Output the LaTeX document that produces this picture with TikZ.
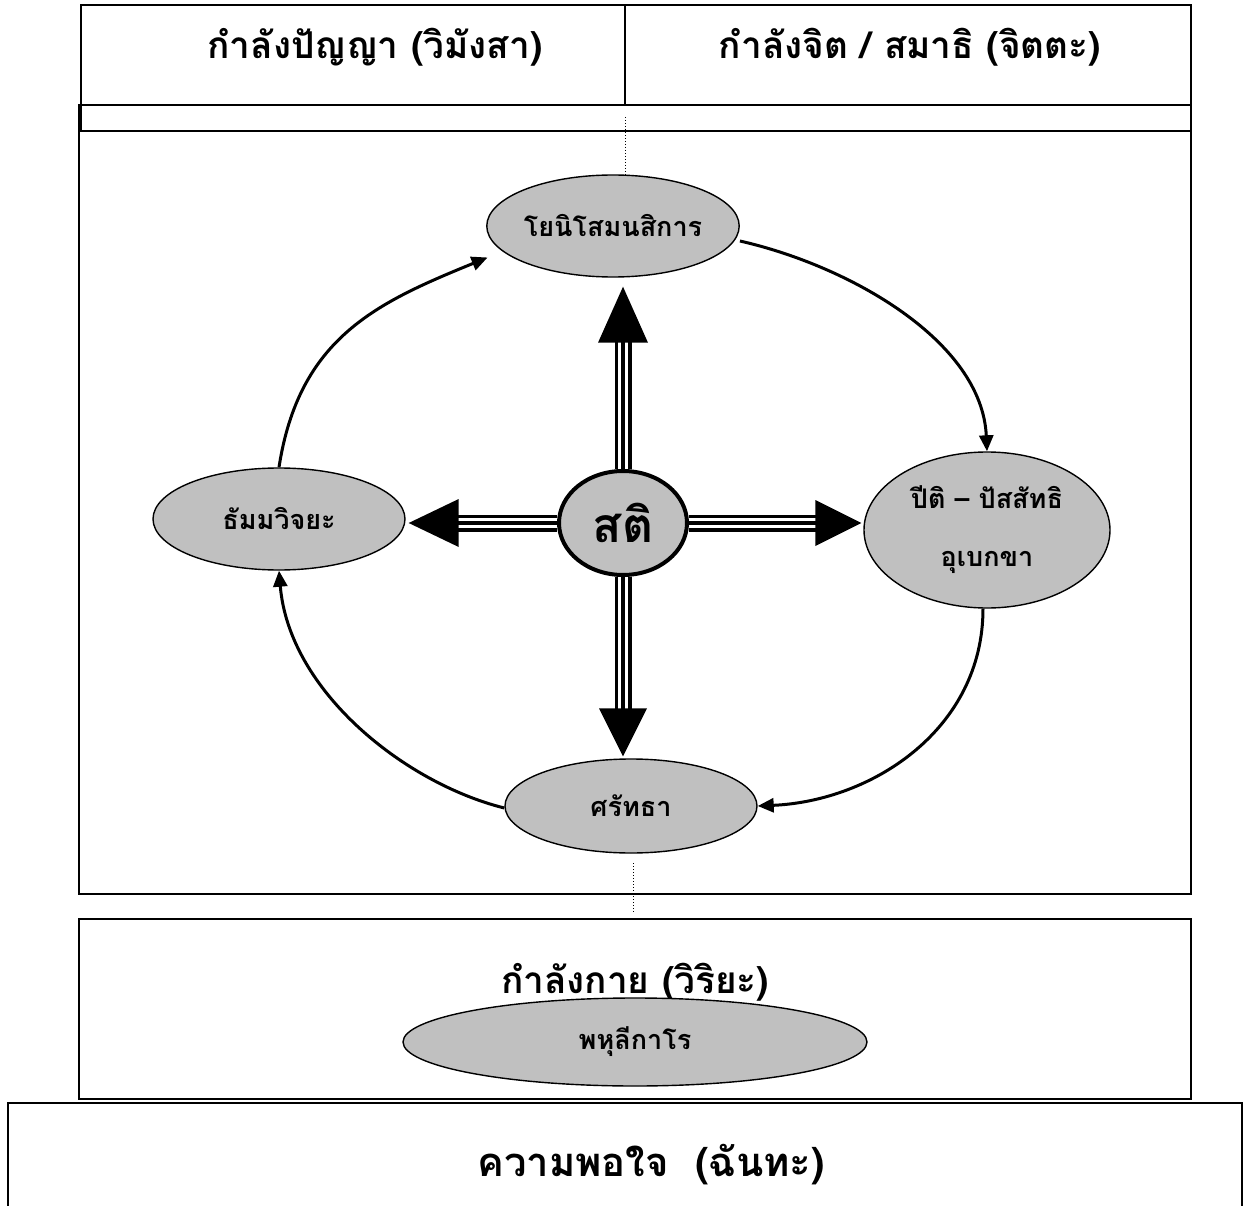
\documentclass[tikz,border=0pt]{standalone}
\usepackage{fontspec}
\newfontfamily\thaifont[Script=Thai]{Loma}
\usetikzlibrary{shapes.geometric,arrows.meta,calc}
\definecolor{ovalgray}{RGB}{192,192,192}
\tikzset{
  frame/.style={draw=black, line width=1.6pt},
  oval/.style={ellipse, draw=black, line width=1.4pt, fill=ovalgray, inner sep=0pt,
    font=\thaifont\bfseries\fontsize{27}{58}\selectfont, align=center},
  headtext/.style={font=\thaifont\bfseries\fontsize{37}{40}\selectfont, inner sep=0pt},
  tripline/.style={line width=3.3pt, double distance=10.4pt, double=white, draw=black},
  midline/.style={line width=3.3pt, draw=black},
  cycarrow/.style={line width=3pt, -{Triangle[length=16pt,width=14pt]}},
  guide/.style={dotted, line width=1pt}
}
\begin{document}
\begin{tikzpicture}[x=1pt,y=-1pt]
\useasboundingbox (0,0) rectangle (1243,1206);
% boxes
\draw[frame, line width=1.2pt] (81,5) rectangle (1191,131);
\draw[frame] (79,105) rectangle (1191,894);
\draw[frame, line width=1.2pt] (625,5) -- (625,105);
\draw[frame] (79,919) rectangle (1191,1099);
\draw[frame, line width=1.4pt] (8,1212) -- (8,1103) -- (1242,1103) -- (1242,1212);
% header texts
\node[headtext] (h1) at (375,47) {กำลังปัญญา (วิมังสา)};
\node[headtext] (h2) at (910,47) {กำลังจิต / สมาธิ (จิตตะ)};
\node[headtext] (h3) at (635,982) {กำลังกาย (วิริยะ)};
\node[headtext, font=\thaifont\bfseries\fontsize{40}{44}\selectfont] (h4) at (651,1165) {ความพอใจ\ \ (ฉันทะ)};
% ovals
\node[oval, minimum width=252pt, minimum height=102pt] (yoni) at (613,226) {โยนิโสมนสิการ};
\node[oval, minimum width=252pt, minimum height=102pt] (dhamma) at (279,519) {ธัมมวิจยะ};
\node[oval, minimum width=246pt, minimum height=156pt] (peti) at (987,530) {ปีติ – ปัสสัทธิ\\อุเบกขา};
\node[oval, minimum width=252pt, minimum height=94pt] (sattha) at (631,806) {ศรัทธา};
\node[oval, minimum width=464pt, minimum height=88pt] (phahu) at (635,1042) {พหุลีกาโร};
\node[oval, line width=4pt, minimum width=128pt, minimum height=104pt,
  font=\thaifont\bfseries\fontsize{48}{48}\selectfont] (sati) at (623,523) {สติ};
% dotted guides
\coordinate (dt1) at (625,117);
\coordinate (db1) at (633,863);
\coordinate (db2) at (633,912);
\draw[guide] (dt1) -- (dt1 |- yoni.north);
\draw[guide] (db1) -- (db2);
% tips of the big arrows
\path (yoni.south) ++(0,9) coordinate (yU);
\coordinate (tU) at (sati.north |- yU);
\path (sattha.north) ++(0,-2) coordinate (sD);
\coordinate (tD) at (sati.south |- sD);
\path (dhamma.east) ++(3,0) coordinate (dL);
\coordinate (tL) at (sati.west -| dL);
\path (peti.west) ++(-2,0) coordinate (pR);
\coordinate (tR) at (sati.east -| pR);
% shafts (up, down, left, right)
\draw[tripline] (sati.north) -- ($(tU)+(0,54)$);
\draw[midline] (sati.north) -- ($(tU)+(0,54)$);
\draw[tripline] (sati.south) -- ($(tD)+(0,-46)$);
\draw[midline] (sati.south) -- ($(tD)+(0,-46)$);
\draw[tripline] (sati.west) -- ($(tL)+(48,0)$);
\draw[midline] (sati.west) -- ($(tL)+(48,0)$);
\draw[tripline] (sati.east) -- ($(tR)+(-44,0)$);
\draw[midline] (sati.east) -- ($(tR)+(-44,0)$);
% heads
\fill (tU) -- ++(-25,56) -- ++(50,0) -- cycle;
\fill (tD) -- ++(-24,-48) -- ++(48,0) -- cycle;
\fill (tL) -- ++(50,-24) -- ++(0,48) -- cycle;
\fill (tR) -- ++(-46,-23) -- ++(0,46) -- cycle;
% cycle arrows
\path (yoni.193) ++(-15,6) coordinate (yIn);
\draw[cycarrow] (dhamma.north) .. controls +(20,-130) and +(-110,45) .. (yIn);
\path (yoni.east) ++(0,15) coordinate (yOut);
\draw[cycarrow] (yOut) .. controls +(110,25) and +(-5,-110) .. (peti.north);
\path (peti.south) ++(-4,0) coordinate (pOut);
\draw[cycarrow] (pOut) .. controls +(0,120) and +(115,-5) .. (sattha.east);
\path (sattha.west) ++(0,2) coordinate (sOut);
\draw[cycarrow] (sOut) .. controls +(-100,-25) and +(10,120) .. (dhamma.south);
\end{tikzpicture}
\end{document}
